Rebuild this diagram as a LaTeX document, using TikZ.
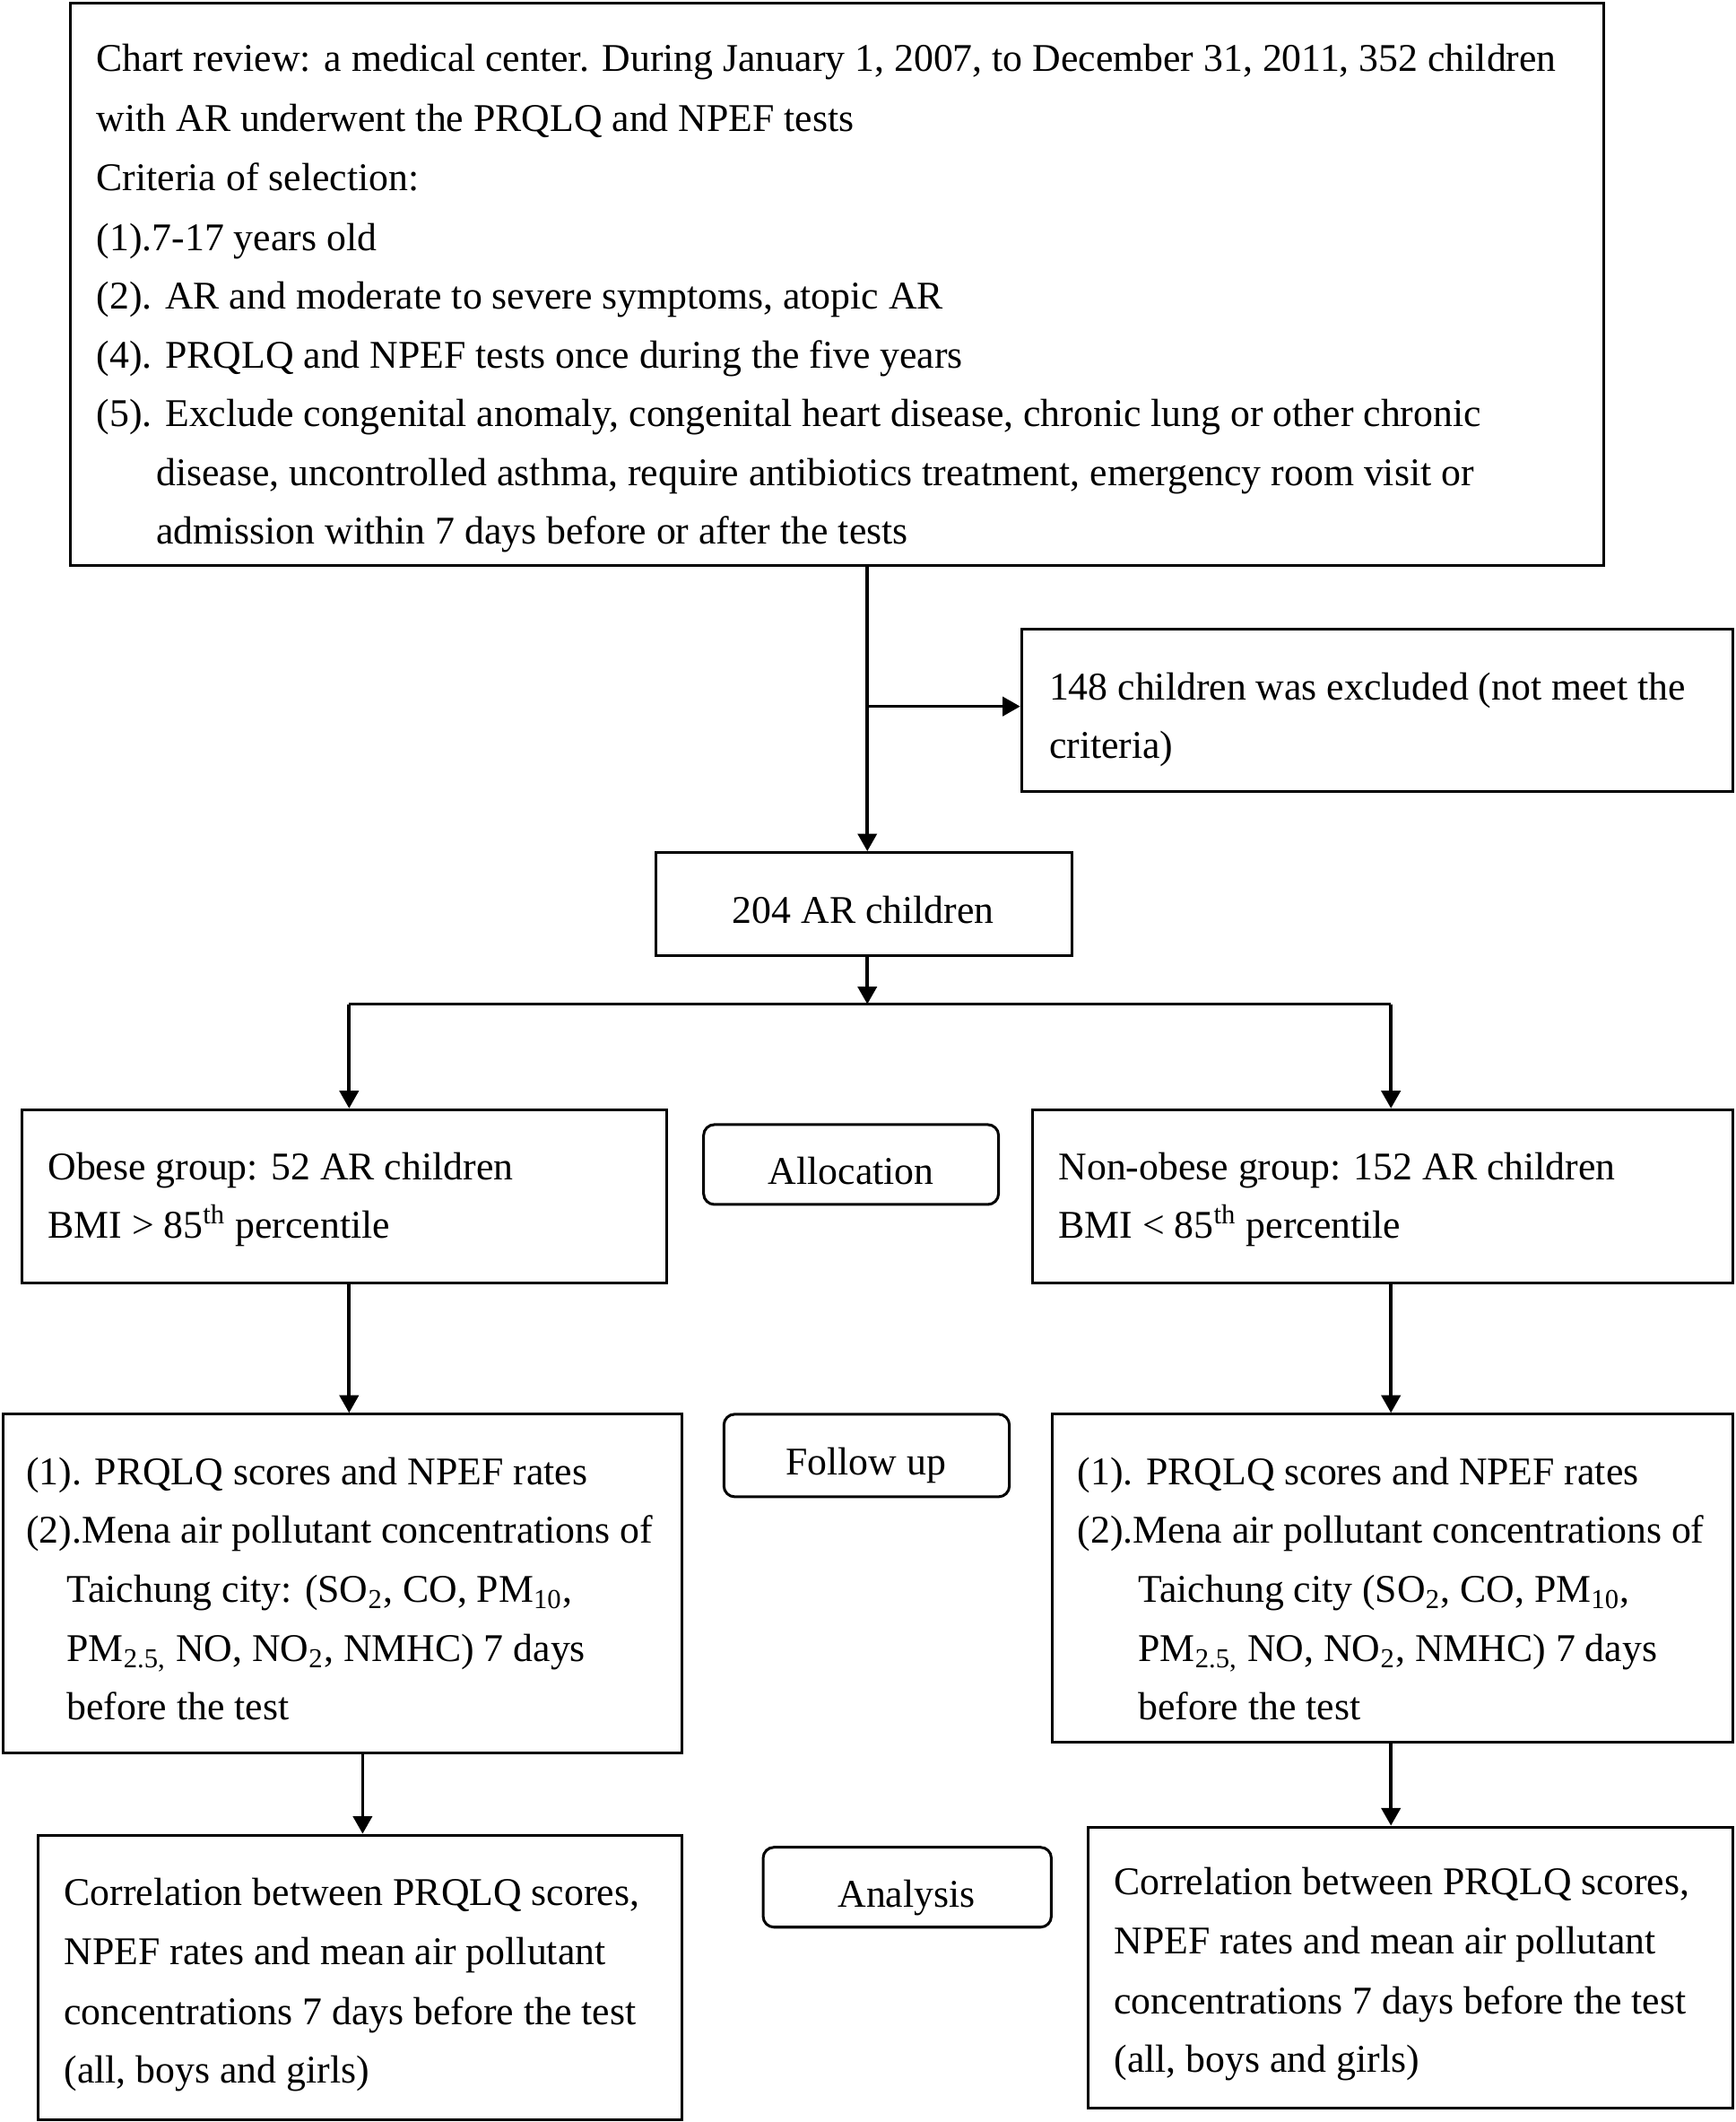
\documentclass[tikz,border=0pt]{standalone}
\usepackage{fontspec}
\setmainfont{Liberation Serif}
\usetikzlibrary{arrows.meta,fit}
\tikzset{
  box/.style={draw, line width=1pt, inner sep=0pt, rectangle},
  rbox/.style={draw, line width=1pt, inner sep=0pt, rectangle, rounded corners=4pt},
  txt/.style={inner sep=0pt, font=\fontsize{14.5}{22}\selectfont},
  arr/.style={line width=1.2pt, -{Triangle[length=6.5pt,width=7pt]}},
  ln/.style={line width=1.2pt}
}
\newcommand\tline[4]{\node[txt, anchor=base west] (#1) at (#2,#3) {#4};}
\newcommand\ctline[4]{\node[txt, anchor=base] (#1) at (#2,#3) {#4};}
\begin{document}
\begin{tikzpicture}[x=0.5pt,y=-0.5pt]
\useasboundingbox (0,0) rectangle (1283,1568);
% boxes
\node[box, fit={(52,2) (1185,418)}] (top) {};
\node[box, fit={(755,465) (1281,585)}] (excl) {};
\node[box, fit={(485,630) (792,706)}] (b204) {};
\node[box, fit={(16,820) (493,948)}] (obese) {};
\node[rbox, fit={(520,831) (738,890)}] (alloc) {};
\node[box, fit={(763,820) (1281,948)}] (nonob) {};
\node[box, fit={(2,1045) (504,1295)}] (fuL) {};
\node[rbox, fit={(535,1045) (746,1106)}] (fu) {};
\node[box, fit={(778,1045) (1281,1287)}] (fuR) {};
\node[box, fit={(28,1356) (504,1566)}] (anL) {};
\node[rbox, fit={(564,1365) (777,1424)}] (an) {};
\node[box, fit={(804,1350) (1281,1558)}] (anR) {};
% texts
\tline{t1}{71}{53}{Chart review: a medical center. During January 1, 2007, to December 31, 2011, 352 children}
\tline{t2}{71}{97}{with AR underwent the PRQLQ and NPEF tests}
\tline{t3}{71}{141}{Criteria of selection:}
\tline{t4}{71}{185}{(1).7-17 years old}
\tline{t5}{71}{228}{(2). AR and moderate to severe symptoms, atopic AR}
\tline{t6}{71}{272}{(4). PRQLQ and NPEF tests once during the five years}
\tline{t7}{71}{315}{(5). Exclude congenital anomaly, congenital heart disease, chronic lung or other chronic}
\tline{t8}{115}{359}{disease, uncontrolled asthma, require antibiotics treatment, emergency room visit or}
\tline{t9}{115}{402}{admission within 7 days before or after the tests}
\tline{e1}{775}{517}{148 children was excluded (not meet the}
\tline{e2}{775}{560}{criteria)}
\ctline{c204}{638}{682}{204 AR children}
\tline{o1}{35}{872}{Obese group: 52 AR children}
\tline{o2}{35}{915}{BMI > 85\textsuperscript{th} percentile}
\ctline{calloc}{629}{875}{Allocation}
\tline{n1}{782}{872}{Non-obese group: 152 AR children}
\tline{n2}{782}{915}{BMI < 85\textsuperscript{th} percentile}
\tline{l1}{19}{1097}{(1). PRQLQ scores and NPEF rates}
\tline{l2}{19}{1140}{(2).Mena air pollutant concentrations of}
\tline{l3}{49}{1184}{Taichung city: (SO\textsubscript{2}, CO, PM\textsubscript{10},}
\tline{l4}{49}{1228}{PM\textsubscript{2.5,} NO, NO\textsubscript{2}, NMHC) 7 days}
\tline{l5}{49}{1271}{before the test}
\ctline{cfu}{640}{1090}{Follow up}
\tline{r1}{796}{1097}{(1). PRQLQ scores and NPEF rates}
\tline{r2}{796}{1140}{(2).Mena air pollutant concentrations of}
\tline{r3}{841}{1184}{Taichung city (SO\textsubscript{2}, CO, PM\textsubscript{10},}
\tline{r4}{841}{1228}{PM\textsubscript{2.5,} NO, NO\textsubscript{2}, NMHC) 7 days}
\tline{r5}{841}{1271}{before the test}
\tline{a1}{47}{1408}{Correlation between PRQLQ scores,}
\tline{a2}{47}{1452}{NPEF rates and mean air pollutant}
\tline{a3}{47}{1496}{concentrations 7 days before the test}
\tline{a4}{47}{1539}{(all, boys and girls)}
\ctline{can}{670}{1409}{Analysis}
\tline{b1}{823}{1400}{Correlation between PRQLQ scores,}
\tline{b2}{823}{1444}{NPEF rates and mean air pollutant}
\tline{b3}{823}{1488}{concentrations 7 days before the test}
\tline{b4}{823}{1531}{(all, boys and girls)}
% connector positions
\coordinate (xM) at (641,0);
\coordinate (yB) at (0,522);
\coordinate (split) at (641,742);
\coordinate (xL) at (258,0);
\coordinate (xL2) at (268,0);
\coordinate (xR) at (1028,0);
\coordinate (jL) at (258,742);
\coordinate (jR) at (1028,742);
% connectors
\draw[arr] (top.south -| xM) -- (b204.north -| xM);
\draw[arr] (xM |- yB) -- (excl.west |- yB);
\draw[arr] (b204.south -| xM) -- (split);
\draw[ln] (jL) -- (jR);
\draw[arr] (jL) -- (obese.north -| jL);
\draw[arr] (jR) -- (nonob.north -| jR);
\draw[arr] (obese.south -| xL) -- (fuL.north -| xL);
\draw[arr] (nonob.south -| xR) -- (fuR.north -| xR);
\draw[arr] (fuL.south -| xL2) -- (anL.north -| xL2);
\draw[arr] (fuR.south -| xR) -- (anR.north -| xR);
\end{tikzpicture}
\end{document}
